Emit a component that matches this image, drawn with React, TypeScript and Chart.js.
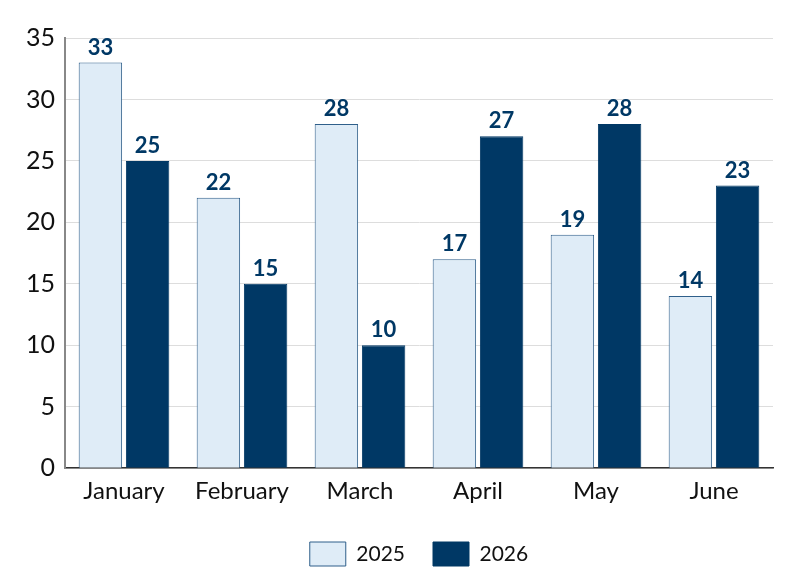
import { useEffect, useRef } from "react"
import { Chart, registerables } from "chart.js"

Chart.register(...registerables)

const months = ["January", "February", "March", "April", "May", "June"]
const values2025 = [33, 22, 28, 17, 19, 14]
const values2026 = [25, 15, 10, 27, 28, 23]
const yTicks = [0, 5, 10, 15, 20, 25, 30, 35]

const NAVY = "#003865"
const LIGHT = "#dfecf7"
const FONT = "Lato, 'Noto Sans', sans-serif"

// draws the value above each bar
const valueLabels = {
  id: "valueLabels",
  afterDatasetsDraw(chart: Chart) {
    const ctx = chart.ctx
    ctx.save()
    ctx.font = `bold 22px ${FONT}`
    ctx.fillStyle = NAVY
    ctx.textAlign = "center"
    ctx.textBaseline = "bottom"
    chart.data.datasets.forEach((ds, i) => {
      chart.getDatasetMeta(i).data.forEach((bar: any, j) => {
        ctx.fillText(String(ds.data[j]), bar.x, bar.y - 4)
      })
    })
    ctx.restore()
  },
}

export default function App() {
  const chartRef = useRef<HTMLCanvasElement>(null)
  const chartInstance = useRef<Chart | null>(null)

  useEffect(() => {
    document.body.style.margin = "0"
    if (!chartRef.current) return
    if (chartInstance.current) chartInstance.current.destroy()
    const ctx = chartRef.current.getContext("2d")
    if (!ctx) return

    chartInstance.current = new Chart(ctx, {
      type: "bar",
      data: {
        labels: months,
        datasets: [
          {
            label: "2025",
            data: values2025,
            backgroundColor: LIGHT,
            borderColor: "#2f5f8a",
            borderWidth: 1,
            categoryPercentage: 0.8,
            barPercentage: 0.92,
          },
          {
            label: "2026",
            data: values2026,
            backgroundColor: NAVY,
            borderColor: NAVY,
            borderWidth: 1,
            categoryPercentage: 0.8,
            barPercentage: 0.92,
          },
        ],
      },
      options: {
        responsive: false,
        animation: false,
        layout: { padding: { top: 38, right: 27, left: 16, bottom: 0 } },
        plugins: {
          legend: {
            position: "bottom",
            fullSize: false,
            labels: {
              boxWidth: 36,
              boxHeight: 24,
              padding: 28,
              color: "#111",
              font: { family: FONT, size: 21 },
            },
          },
          tooltip: { enabled: false },
        },
        scales: {
          x: {
            grid: { display: false },
            border: { color: "#333", width: 1.5 },
            ticks: { color: "#111", font: { family: FONT, size: 24 }, padding: 1 },
            afterFit: (scale: any) => {
              scale.height += 7
            },
          },
          y: {
            min: 0,
            max: 35,
            afterBuildTicks: (axis: any) => {
              axis.ticks = yTicks.map((v) => ({ value: v }))
            },
            grid: { color: "#dddddd", drawTicks: false },
            border: { color: "#888", width: 2 },
            ticks: { color: "#111", font: { family: FONT, size: 25 }, padding: 10 },
          },
        },
      },
      plugins: [valueLabels],
    })

    return () => {
      if (chartInstance.current) {
        chartInstance.current.destroy()
        chartInstance.current = null
      }
    }
  }, [])

  return (
    <div style={{ width: 800, height: 576 }}>
      <canvas ref={chartRef} width={800} height={576} />
    </div>
  )
}
